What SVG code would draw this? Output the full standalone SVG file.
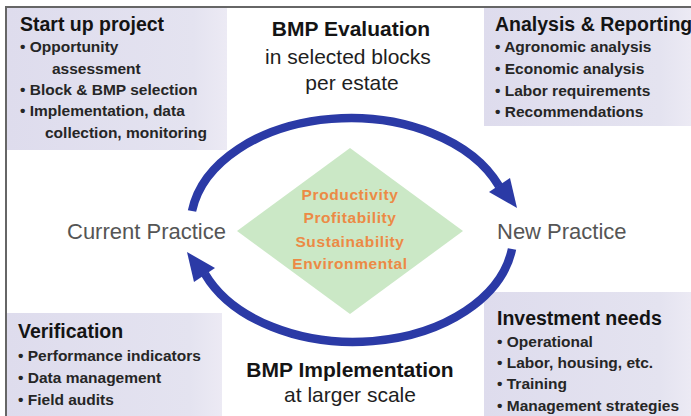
<svg xmlns="http://www.w3.org/2000/svg" width="691" height="416" viewBox="0 0 691 416">
<style>
  .title{font-family:"Liberation Sans",Arial,sans-serif;font-weight:bold;font-size:19.5px;fill:#141414}
  .item{font-family:"Liberation Sans",Arial,sans-serif;font-weight:bold;font-size:15.5px;fill:#262626}
  .ctitle{font-family:"Liberation Sans",Arial,sans-serif;font-weight:bold;font-size:21px;fill:#141414;text-anchor:middle}
  .csub{font-family:"Liberation Sans",Arial,sans-serif;font-size:21px;fill:#1e1e1e;text-anchor:middle}
  .prac{font-family:"Liberation Sans",Arial,sans-serif;font-size:22px;fill:#555}
  .dia{font-family:"Liberation Sans",Arial,sans-serif;font-weight:bold;font-size:15.5px;letter-spacing:0.6px;fill:#ec8a45;text-anchor:middle}
  .panel{fill:url(#pg)}
  .arc{fill:none;stroke:#2b3aa6;stroke-width:8.5}
  .head{fill:#2b3aa6}
</style>
<defs>
  <linearGradient id="pg" x1="0" y1="0" x2="1" y2="0">
    <stop offset="0" stop-color="#dedced"/>
    <stop offset="0.85" stop-color="#e4e3f0"/>
    <stop offset="1" stop-color="#eceaf4"/>
  </linearGradient>
</defs>
<rect width="691" height="416" fill="#fff"/>
<g id="frame">
  <line x1="6" y1="7" x2="691" y2="7" stroke="#666" stroke-width="2"/>
  <line x1="6" y1="6" x2="6" y2="416" stroke="#666" stroke-width="2"/>
</g>
<g id="startup">
  <rect class="panel" x="7" y="8" width="220" height="142"/>
  <text class="title" x="20" y="31">Start up project</text>
  <text class="item" x="20" y="52">• Opportunity</text>
  <text class="item" x="52" y="74">assessment</text>
  <text class="item" x="20" y="95">• Block &amp; BMP selection</text>
  <text class="item" x="20" y="116">• Implementation, data</text>
  <text class="item" x="45" y="138">collection, monitoring</text>
</g>
<g id="analysis">
  <rect class="panel" x="484" y="8" width="207" height="118"/>
  <text class="title" x="495" y="31">Analysis &amp; Reporting</text>
  <text class="item" x="495" y="52">• Agronomic analysis</text>
  <text class="item" x="495" y="74">• Economic analysis</text>
  <text class="item" x="495" y="96">• Labor requirements</text>
  <text class="item" x="495" y="117">• Recommendations</text>
</g>
<g id="verification">
  <rect class="panel" x="7" y="313" width="215" height="103"/>
  <text class="title" x="18" y="338">Verification</text>
  <text class="item" x="18" y="361">• Performance indicators</text>
  <text class="item" x="18" y="383">• Data management</text>
  <text class="item" x="18" y="405">• Field audits</text>
</g>
<g id="investment">
  <rect class="panel" x="484" y="292" width="207" height="124"/>
  <text class="title" x="497" y="325">Investment needs</text>
  <text class="item" x="497" y="347">• Operational</text>
  <text class="item" x="497" y="368">• Labor, housing, etc.</text>
  <text class="item" x="497" y="389">• Training</text>
  <text class="item" x="497" y="411">• Management strategies</text>
</g>
<g id="evaluation">
  <text class="ctitle" x="351" y="36">BMP Evaluation</text>
  <text class="csub" x="348" y="64">in selected blocks</text>
  <text class="csub" x="352" y="90">per estate</text>
</g>
<g id="implementation">
  <text class="ctitle" x="350" y="377">BMP Implementation</text>
  <text class="csub" x="350" y="402">at larger scale</text>
</g>
<g id="current">
  <text class="prac" x="67" y="239">Current Practice</text>
</g>
<g id="new">
  <text class="prac" x="497" y="239">New Practice</text>
</g>
<g id="criteria">
  <polygon points="237,231 350,148 463,231 350,314" fill="#cbe8c6"/>
  <text class="dia" x="350" y="200">Productivity</text>
  <text class="dia" x="350" y="223">Profitability</text>
  <text class="dia" x="350" y="247">Sustainability</text>
  <text class="dia" x="350" y="269">Environmental</text>
</g>
<g id="connectors">
  <path class="arc" d="M192 211 A160 108 0 0 1 499 186"/>
  <polygon class="head" points="517,208 510,178 489,192"/>
  <path class="arc" d="M512 249 A160 108 0 0 1 205 274"/>
  <polygon class="head" points="187,252 194,282 215,268"/>
</g>
</svg>
